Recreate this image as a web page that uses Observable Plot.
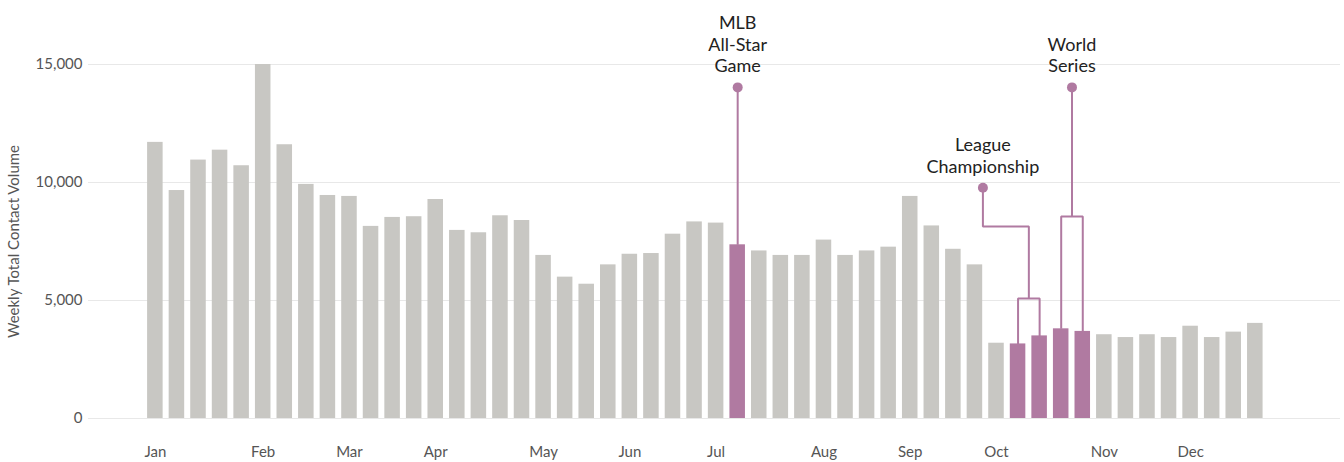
<!DOCTYPE html>
<html><head><meta charset="utf-8">
<script src="https://cdn.jsdelivr.net/npm/d3@7"></script>
<script src="https://cdn.jsdelivr.net/npm/@observablehq/plot@0.6"></script>
<style>html,body{margin:0;padding:0;background:#fff;} svg{display:block}</style>
</head><body><div id="chart"></div>
<script>
// ---- data ----
const weekIndex = d3.range(52);
const volumes = [11700, 9660, 10950, 11370, 10710, 15000, 11600, 9920, 9450, 9410,
  8140, 8520, 8550, 9280, 7970, 7870, 8590, 8390, 6910, 5990,
  5690, 6510, 6960, 6990, 7810, 8330, 8280, 7360, 7100, 6910,
  6910, 7560, 6910, 7100, 7260, 9410, 8160, 7170, 6510, 3190,
  3160, 3500, 3800, 3690, 3550, 3430, 3550, 3430, 3910, 3430,
  3660, 4030];
const highlightWeeks = [27, 40, 41, 42, 43];
const monthNames = ["Jan","Feb","Mar","Apr","May","Jun","Jul","Aug","Sep","Oct","Nov","Dec"];
const monthStartWeeks = [0, 5, 9, 13, 18, 22, 26, 31, 35, 39, 44, 48];
const yTicks = [0, 5000, 10000, 15000];

// annotations
const annoLabels = ["MLB\nAll-Star\nGame", "League\nChampionship", "World\nSeries"];
const annoDotX = [27, 38.37, 42.5];
const annoDotY = [14030, 9780, 14030];
const annoElbowY = [null, 8140, null];
const annoBracketY = [null, 5080, 8560];
const annoWeeks = [[27], [40, 41], [42, 43]];

const gray = "#c8c7c3";
const purple = "#b07aa1";

// ---- build tables ----
const bars = weekIndex.map(i => ({i, v: volumes[i], hl: highlightWeeks.includes(i)}));
const paths = [];
annoLabels.forEach((lab, k) => {
  const ws = annoWeeks[k];
  const stem = [{x: annoDotX[k], y: annoDotY[k]}];
  if (ws.length === 1) {
    stem.push({x: annoDotX[k], y: volumes[ws[0]]});
  } else {
    const mid = (ws[0] + ws[1]) / 2;
    if (annoElbowY[k] != null) {
      stem.push({x: annoDotX[k], y: annoElbowY[k]});
      stem.push({x: mid, y: annoElbowY[k]});
    }
    stem.push({x: mid, y: annoBracketY[k]});
    const br = [
      {x: ws[0], y: volumes[ws[0]]},
      {x: ws[0], y: annoBracketY[k]},
      {x: ws[1], y: annoBracketY[k]},
      {x: ws[1], y: volumes[ws[1]]}
    ];
    br.forEach(p => paths.push({...p, z: "b" + k}));
  }
  stem.forEach(p => paths.push({...p, z: "s" + k}));
});
const annos = annoLabels.map((t, k) => ({t, x: annoDotX[k], y: annoDotY[k]}));

const chart = Plot.plot({
  width: 1344,
  height: 462,
  marginLeft: 88,
  marginRight: 4,
  marginTop: 64,
  marginBottom: 44,
  style: {fontFamily: "Lato, 'Open Sans', sans-serif", fontSize: "15px", background: "#fff"},
  x: {type: "linear", domain: [-3.1, 54.95]},
  y: {domain: [0, 15000]},
  marks: [
    Plot.gridY({ticks: yTicks, stroke: "#e8e8e8", strokeOpacity: 1, strokeWidth: 1.2}),
    Plot.axisY({ticks: yTicks, tickSize: 0, tickPadding: 6, tickFormat: d3.format(","),
      color: "#555", label: "Weekly Total Contact Volume", labelAnchor: "center",
      labelOffset: 80, labelArrow: "none"}),
    Plot.axisX({ticks: monthStartWeeks, tickSize: 0, tickPadding: 28,
      tickFormat: i => monthNames[monthStartWeeks.indexOf(i)], color: "#555", label: null}),
    Plot.line(paths, {x: "x", y: "y", z: "z", stroke: purple, strokeWidth: 2,
      strokeLinejoin: "miter", strokeLinecap: "butt", curve: "linear"}),
    Plot.rectY(bars.filter(d => !d.hl), {x1: d => d.i - 0.36, x2: d => d.i + 0.36, y1: 0, y2: "v", fill: gray}),
    Plot.rectY(bars.filter(d => d.hl), {x1: d => d.i - 0.36, x2: d => d.i + 0.36, y1: 0, y2: "v", fill: purple}),
    Plot.dot(annos, {x: "x", y: "y", r: 5, fill: purple, stroke: null}),
    Plot.text(annos, {x: "x", y: "y", text: "t", lineAnchor: "bottom", dy: -15,
      fontSize: 18, lineHeight: 1.2, fill: "#222"})
  ]
});
document.getElementById("chart").appendChild(chart);
</script>
</body></html>
